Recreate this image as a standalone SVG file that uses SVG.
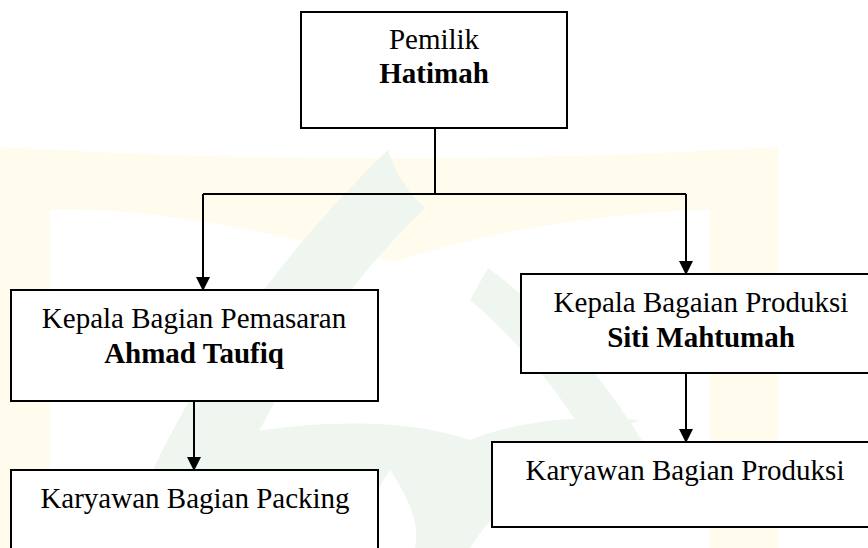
<svg xmlns="http://www.w3.org/2000/svg" width="868" height="548" viewBox="0 0 868 548">
<defs>
<style>
.bg{fill:#ffffff}
.wy{fill:#fffcee}
.wg{fill:#eff6ef}
.box{fill:#ffffff;stroke:#000000;stroke-width:2}
.edge{fill:none;stroke:#000000;stroke-width:2}
.t{font-family:"Liberation Serif","Times New Roman",serif;font-size:29px;fill:#000000;text-anchor:middle}
.b{font-weight:bold}
</style>
<marker id="arr" viewBox="0 0 14 14" refX="13" refY="7" markerWidth="14" markerHeight="14" markerUnits="userSpaceOnUse" orient="auto">
<path d="M0,0 L14,7 L0,14 Z" fill="#000000"/>
</marker>
</defs>
<rect class="bg" x="0" y="0" width="868" height="548"/>
<g id="watermark">
<path class="wy" d="M0,147 Q389,170 778,147 L778,548 L710,548 L710,210 C600,212 470,235 395,262 C300,240 160,205 50,210 L50,548 L0,548 Z"/>
<path class="wg" d="M388,150 C320,215 180,370 122,548 L212,548 C245,430 330,300 425,208 C405,190 395,170 388,150 Z"/>
<path class="wg" d="M488,268 C560,320 620,400 660,470 L610,480 C580,420 530,350 470,300 Z"/>
<path class="wg" d="M200,444 C280,420 400,415 470,440 C520,420 580,415 640,420 C560,450 500,500 470,548 L300,548 C290,510 250,470 200,444 Z"/>
<path class="bg" d="M390,470 C370,500 360,525 365,548 L415,548 C420,525 410,500 390,470 Z"/>
</g>
<g id="connectors">
<path class="edge" d="M435,128 L435,194"/>
<path class="edge" d="M203,194 L686,194"/>
<path class="edge" d="M203,194 L203,290" marker-end="url(#arr)"/>
<path class="edge" d="M686,194 L686,274" marker-end="url(#arr)"/>
<path class="edge" d="M194,401 L194,470" marker-end="url(#arr)"/>
<path class="edge" d="M686,373 L686,442" marker-end="url(#arr)"/>
</g>
<g id="pemilik">
<rect class="box" x="301" y="12" width="266" height="116"/>
<text class="t" x="434" y="49">Pemilik</text>
<text class="t b" x="434" y="83">Hatimah</text>
</g>
<g id="kabag-pemasaran">
<rect class="box" x="11" y="290" width="367" height="111"/>
<text class="t" x="194" y="328">Kepala Bagian Pemasaran</text>
<text class="t b" x="194" y="363">Ahmad Taufiq</text>
</g>
<g id="karyawan-packing">
<rect class="box" x="11" y="470" width="367" height="100"/>
<text class="t" x="195" y="508">Karyawan Bagian Packing</text>
</g>
<g id="kabag-produksi">
<rect class="box" x="521" y="274" width="361" height="99"/>
<text class="t" x="701" y="312">Kepala Bagaian Produksi</text>
<text class="t b" x="701" y="347">Siti Mahtumah</text>
</g>
<g id="karyawan-produksi">
<rect class="box" x="492" y="442" width="385" height="85"/>
<text class="t" x="685" y="480">Karyawan Bagian Produksi</text>
</g>
</svg>
